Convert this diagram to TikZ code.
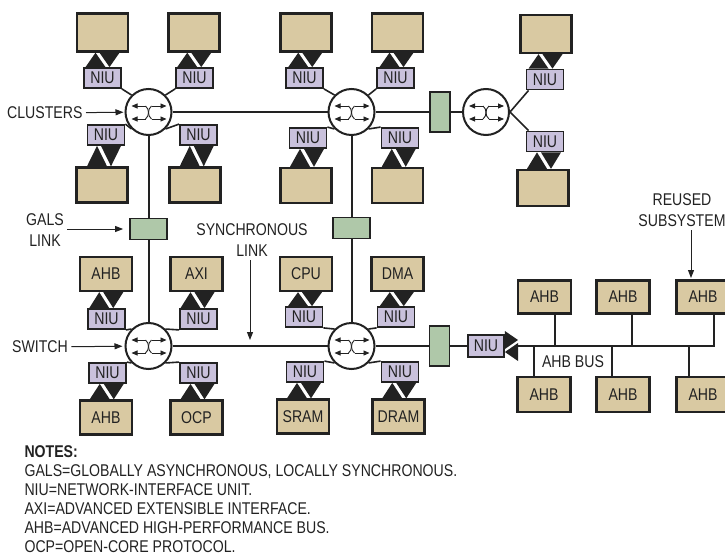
\documentclass[tikz,border=0pt]{standalone}
\usepackage{fontspec}
\setmainfont{Liberation Sans}[FakeStretch=0.83]
\usetikzlibrary{arrows.meta,calc}
\definecolor{ink}{HTML}{222222}
\definecolor{tanc}{HTML}{D9C9A2}
\definecolor{niuc}{HTML}{C9C1DC}
\definecolor{galc}{HTML}{AFC8A9}
\newcommand\bidir[2]{\fill[ink] let \p1=(#1.south), \p2=(#2.north) in
  ({(\x1+\x2)/2-17pt},\y2) -- ({(\x1+\x2)/2-7pt},\y1) -- ({(\x1+\x2)/2+3pt},\y2) -- cycle
  ({(\x1+\x2)/2-3pt},\y1) -- ({(\x1+\x2)/2+17pt},\y1) -- ({(\x1+\x2)/2+7pt},\y2) -- cycle;}
\tikzset{
  tanbox/.style={draw=ink, line width=2.4pt, fill=tanc, minimum width=51pt, minimum height=38pt, inner sep=0pt},
  lblbox/.style={tanbox, minimum width=52pt, minimum height=34pt},
  busbox/.style={tanbox, minimum width=53pt, minimum height=33pt},
  niu/.style={draw=ink, line width=1.8pt, fill=niuc, minimum width=37pt, minimum height=20pt, inner sep=0pt},
  galsv/.style={draw=ink, line width=1.8pt, fill=galc, minimum width=20pt, minimum height=40pt, inner sep=0pt},
  galsh/.style={draw=ink, line width=1.8pt, fill=galc, minimum width=37pt, minimum height=21pt, inner sep=0pt},
  switch/.style={circle, draw=ink, line width=2pt, fill=white, minimum size=46pt, inner sep=0pt},
  link/.style={draw=ink, line width=2pt},
  spoke/.style={draw=ink, line width=1.6pt},
  callout/.style={draw=ink, line width=1pt, -{Triangle[length=8pt,width=6pt]}},
  swsym/.pic={
    \draw[ink, line width=0.9pt, -{Triangle[length=6pt,width=5pt]}] (-3,-6) -- (-17,-6);
    \draw[ink, line width=0.9pt, -{Triangle[length=6pt,width=5pt]}] (3,-6) -- (18,-6);
    \draw[ink, line width=0.9pt, -{Triangle[length=6pt,width=5pt]}] (-3,7) -- (-17,7);
    \draw[ink, line width=0.9pt, -{Triangle[length=6pt,width=5pt]}] (3,7) -- (18,7);
    \draw[ink, line width=0.9pt] (-3,-6) .. controls (1,-3) and (1,4) .. (-3,7);
    \draw[ink, line width=0.9pt] (3,-6) .. controls (-1,-3) and (-1,4) .. (3,7);
  }
}
\begin{document}
\begin{tikzpicture}[x=1pt,y=-1pt, font=\fontsize{17}{21}\selectfont, text=ink]
\useasboundingbox (0,0) rectangle (725,559);

% ---------- cluster 1 ----------
\node[switch] (s1) at (148.5,112) {};
\pic at (s1) {swsym};
\node[tanbox] (b1a) at (102.5,32.5) {};
\node[tanbox] (b1b) at (194,32.5) {};
\node[niu] (n1a) at (102.5,78) {NIU};
\node[niu] (n1b) at (194.5,78) {NIU};
\node[niu] (n1c) at (106,135) {NIU};
\node[niu] (n1d) at (198.5,135) {NIU};
\node[tanbox, minimum height=35pt] (b1c) at (102,185) {};
\node[tanbox, minimum height=35pt] (b1d) at (195,185) {};

% ---------- cluster 2 ----------
\node[switch] (s2) at (351.5,112) {};
\pic at (s2) {swsym};
\node[tanbox] (b2a) at (306,32.5) {};
\node[tanbox] (b2b) at (397.5,32.5) {};
\node[niu] (n2a) at (304.5,78) {NIU};
\node[niu] (n2b) at (395.5,78) {NIU};
\node[niu] (n2c) at (308,138) {NIU};
\node[niu] (n2d) at (400,138) {NIU};
\node[tanbox, minimum height=35pt] (b2c) at (306,185.5) {};
\node[tanbox, minimum height=35pt] (b2d) at (397.5,185.5) {};

% ---------- cluster 4 (right) ----------
\node[galsv] (g1) at (440,112) {};
\node[switch] (s4) at (486,112) {};
\pic at (s4) {swsym};
\node[niu] (n4a) at (545,79.5) {NIU};
\node[niu] (n4b) at (545,141.5) {NIU};
\node[tanbox] (b4a) at (546,34) {};
\node[tanbox, minimum height=36pt] (b4b) at (543,188) {};

% ---------- GALS links ----------
\node[galsh] (g2) at (148.5,229) {};
\node[galsh] (g3) at (351.5,228) {};

% ---------- cluster 3 ----------
\node[switch] (s3) at (148.5,346) {};
\pic at (s3) {swsym};
\node[lblbox] (a3a) at (106,274) {AHB};
\node[lblbox] (a3b) at (196.5,274) {AXI};
\node[niu] (n3a) at (106.5,319) {NIU};
\node[niu] (n3b) at (198.5,319) {NIU};
\node[niu] (n3c) at (107.5,373) {NIU};
\node[niu] (n3d) at (198.5,373) {NIU};
\node[lblbox] (a3c) at (106,417.5) {AHB};
\node[lblbox] (a3d) at (196.5,417.5) {OCP};

% ---------- cluster 5 ----------
\node[switch] (s5) at (351.5,346) {};
\pic at (s5) {swsym};
\node[lblbox] (a5a) at (306,274) {CPU};
\node[lblbox] (a5b) at (397.5,274) {DMA};
\node[niu] (n5a) at (304,317) {NIU};
\node[niu] (n5b) at (396,317) {NIU};
\node[niu] (n5c) at (305,372) {NIU};
\node[niu] (n5d) at (400,372) {NIU};
\node[lblbox] (a5c) at (303,416.5) {SRAM};
\node[lblbox] (a5d) at (398.5,416.5) {DRAM};

\node[galsv] (g4) at (439.5,346) {};
\node[niu, minimum width=36pt, minimum height=22pt] (niuB) at (486,346) {NIU};

% ---------- AHB bus subsystem ----------
\node[busbox] (ta1) at (544.5,297) {AHB};
\node[busbox] (ta2) at (623,297) {AHB};
\node[busbox] (ta3) at (703,297) {AHB};
\node[busbox, minimum height=35pt] (ba1) at (544,394.5) {AHB};
\node[busbox, minimum height=35pt] (ba2) at (623,394.5) {AHB};
\node[busbox, minimum height=35pt] (ba3) at (703,394.5) {AHB};
\coordinate (busL) at (518,346);
\coordinate (busR) at (714,346);
\node (busLbl) at (573,362) {AHB BUS};

% ---------- links ----------
\draw[link] (s1) -- (s2);
\draw[link] (s2) -- (g1) -- (s4);
\draw[link] (s1) -- (g2) -- (s3);
\draw[link] (s2) -- (g3) -- (s5);
\draw[link] (s3) -- (s5);
\draw[link] (s5) -- (g4) -- (niuB);

% spokes switch -> NIU
\draw[spoke] (s1.north west) -- (n1a.south east);
\draw[spoke] (s1.north east) -- (n1b.south west);
\draw[spoke] (s1.south west) -- (n1c.north east);
\draw[spoke] (s1.south east) -- (n1d.north west);
\draw[spoke] (s2.north west) -- (n2a.south east);
\draw[spoke] (s2.north east) -- (n2b.south west);
\draw[spoke] (s2.south west) -- (n2c.north east);
\draw[spoke] (s2.south east) -- (n2d.north west);
\draw[spoke] (s3.north west) -- (n3a.south east);
\draw[spoke] (s3.north east) -- (n3b.south west);
\draw[spoke] (s3.south west) -- (n3c.north east);
\draw[spoke] (s3.south east) -- (n3d.north west);
\draw[spoke] (s5.north west) -- (n5a.south east);
\draw[spoke] (s5.north east) -- (n5b.south west);
\draw[spoke] (s5.south west) -- (n5c.north east);
\draw[spoke] (s5.south east) -- (n5d.north west);
\draw[spoke] (s4.east) -- ([xshift=3pt]n4a.south west);
\draw[spoke] (s4.east) -- ([xshift=3pt]n4b.north west);

% NIU <-> core double arrows
\bidir{b1a}{n1a} \bidir{b1b}{n1b} \bidir{n1c}{b1c} \bidir{n1d}{b1d}
\bidir{b2a}{n2a} \bidir{b2b}{n2b} \bidir{n2c}{b2c} \bidir{n2d}{b2d}
\bidir{b4a}{n4a} \bidir{n4b}{b4b}
\bidir{a3a}{n3a} \bidir{a3b}{n3b} \bidir{n3c}{a3c} \bidir{n3d}{a3d}
\bidir{a5a}{n5a} \bidir{a5b}{n5b} \bidir{n5c}{a5c} \bidir{n5d}{a5d}

% NIU <-> AHB bus double arrow
\fill[ink] let \p1=(niuB.east), \p2=(busL) in
  (\x1,{\y1+15pt}) -- (\x1,{\y1-3pt}) -- (\x2,{\y1+6pt}) -- cycle
  (\x2,{\y1+3pt}) -- (\x2,{\y1-15pt}) -- (\x1,{\y1-6pt}) -- cycle;

% AHB bus
\draw[link] (busL) -- (busR) -- (busR |- ta3.south);
\draw[link] ([xshift=10.5pt]ta1.south) -- ([xshift=10.5pt]ta1.south |- busL);
\draw[link] ([xshift=9pt]ta2.south) -- ([xshift=9pt]ta2.south |- busL);
\draw[link] ([xshift=-10pt]ba1.north) -- ([xshift=-10pt]ba1.north |- busL);
\draw[link] ([xshift=-11pt]ba2.north) -- ([xshift=-11pt]ba2.north |- busL);
\draw[link] ([xshift=-14pt]ba3.north) -- ([xshift=-14pt]ba3.north |- busL);

% ---------- callouts ----------
\node[anchor=east] (clus) at (86,113) {CLUSTERS};
\draw[callout, shorten >=1pt] (clus) -- (s1);
\node[align=center] (gl) at (45,230) {GALS\\LINK};
\draw[callout, shorten >=6pt] (gl.east |- g2) -- (g2);
\node (swl) at (40,347) {SWITCH};
\draw[callout, shorten >=2pt] (swl) -- (s3);
\node[align=center] (sl) at (252,240) {SYNCHRONOUS\\LINK};
\coordinate (slB) at (250,340);
\draw[callout] (sl.south -| slB) -- (slB);
\node[align=center] (ru) at (682,210) {REUSED\\SUBSYSTEM};
\coordinate (ruB) at (691,278);
\draw[callout] (ru.south -| ruB) -- (ruB);

% ---------- notes ----------
\node[anchor=base west, font=\fontsize{17}{21}\selectfont\bfseries] (nt0) at (21,457) {NOTES:};
\node[anchor=base west] (nt1) at (21,476) {GALS=GLOBALLY ASYNCHRONOUS, LOCALLY SYNCHRONOUS.};
\node[anchor=base west] (nt2) at (21,495) {NIU=NETWORK-INTERFACE UNIT.};
\node[anchor=base west] (nt3) at (21,514) {AXI=ADVANCED EXTENSIBLE INTERFACE.};
\node[anchor=base west] (nt4) at (21,533) {AHB=ADVANCED HIGH-PERFORMANCE BUS.};
\node[anchor=base west] (nt5) at (21,552) {OCP=OPEN-CORE PROTOCOL.};
\end{tikzpicture}
\end{document}
